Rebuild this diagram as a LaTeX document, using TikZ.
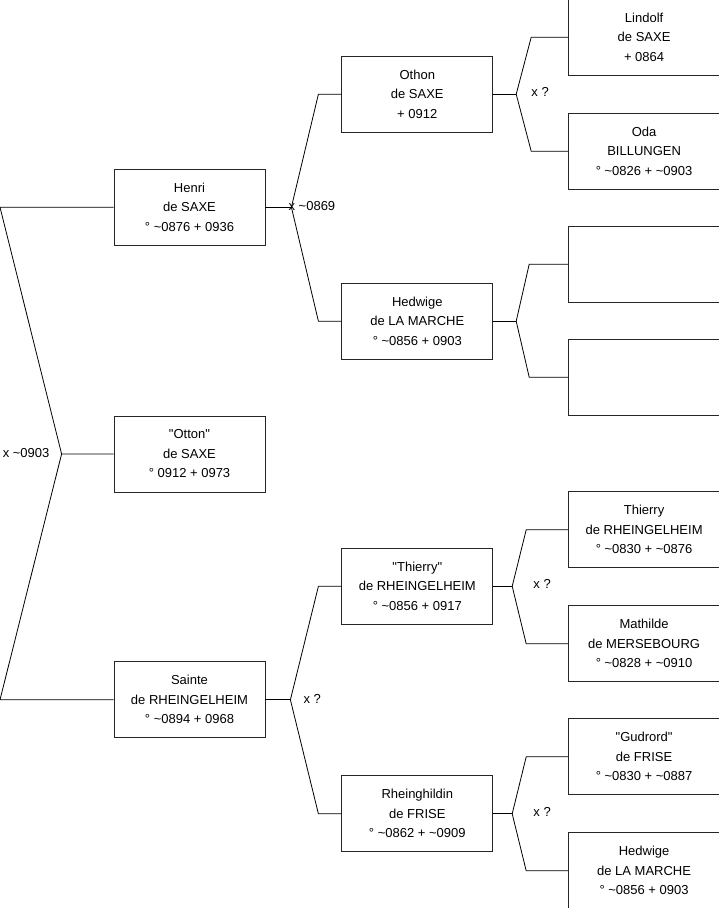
\documentclass[tikz,border=0pt]{standalone}
\usepackage{fontspec}
\setmainfont{Liberation Sans}
\usetikzlibrary{positioning}
\newcommand{\env}{\textasciitilde}
\newcommand{\guil}[1]{\textquotedbl#1\textquotedbl}
\tikzset{
  personne/.style={
    rectangle, draw=black!85, line width=0.8pt, fill=white,
    align=center, inner sep=2pt, minimum width=151pt, minimum height=76pt,
    font=\fontsize{13}{19.5}\selectfont
  },
  lien/.style={draw=black, line width=0.8pt},
  union/.style={font=\fontsize{13}{15}\selectfont, inner sep=0pt}
}
\begin{document}
\begin{tikzpicture}[x=1pt, y=-1pt, node distance=170pt and 76pt]
\useasboundingbox (0,0) rectangle (719,908);
\coordinate (bord) at (0,0);

% Enfant et parents
\node[personne] (otton) at (189.5,454) {\guil{Otton}\\de SAXE\\° 0912 + 0973};
\node[personne, above=170pt of otton] (henri) {Henri\\de SAXE\\° \env0876 + 0936};
\node[personne, below=169pt of otton] (sainte) {Sainte\\de RHEINGELHEIM\\° \env0894 + 0968};

% Grands-parents
\node[personne, right=76pt of henri, yshift=113pt] (othon) {Othon\\de SAXE\\+ 0912};
\node[personne, right=76pt of henri, yshift=-114pt] (hedwige) {Hedwige\\de LA MARCHE\\° \env0856 + 0903};
\node[personne, right=76pt of sainte, yshift=113.5pt] (thierry) {\guil{Thierry}\\de RHEINGELHEIM\\° \env0856 + 0917};
\node[personne, right=76pt of sainte, yshift=-114pt] (rheinghildin) {Rheinghildin\\de FRISE\\° \env0862 + \env0909};

% Arrière-grands-parents
\node[personne, right=75pt of othon, yshift=57pt] (lindolf) {Lindolf\\de SAXE\\+ 0864};
\node[personne, right=75pt of othon, yshift=-57pt] (oda) {Oda\\BILLUNGEN\\° \env0826 + \env0903};
\node[personne, right=75pt of hedwige, yshift=57pt] (inconnu1) {};
\node[personne, right=75pt of hedwige, yshift=-56pt] (inconnu2) {};
\node[personne, right=75pt of thierry, yshift=56.5pt] (thierrypere) {Thierry\\de RHEINGELHEIM\\° \env0830 + \env0876};
\node[personne, right=75pt of thierry, yshift=-57.5pt] (mathilde) {Mathilde\\de MERSEBOURG\\° \env0828 + \env0910};
\node[personne, right=75pt of rheinghildin, yshift=57pt] (gudrord) {\guil{Gudrord}\\de FRISE\\° \env0830 + \env0887};
\node[personne, right=75pt of rheinghildin, yshift=-57pt] (hedwige2) {Hedwige\\de LA MARCHE\\° \env0856 + 0903};

% Points d'union
\coordinate[left=52pt of otton.west] (x0);
\coordinate[right=26pt of henri.east] (x1);
\coordinate[right=25pt of sainte.east] (x2);
\coordinate[right=23pt of othon.east] (x3);
\coordinate[right=23pt of hedwige.east] (x4);
\coordinate[right=19pt of thierry.east] (x5);
\coordinate[right=19pt of rheinghildin.east] (x6);

% Liens parents -> enfant
\draw[lien] (henri.west) -- (henri.west -| bord) -- (x0) -- (otton.west);
\draw[lien] (sainte.west) -- (sainte.west -| bord) -- (x0);

\draw[lien] (henri.east) -- (x1);
\draw[lien] (x1) -- ([xshift=-23pt]othon.west) -- (othon.west);
\draw[lien] (x1) -- ([xshift=-23pt]hedwige.west) -- (hedwige.west);
\draw[lien] (sainte.east) -- (x2);
\draw[lien] (x2) -- ([xshift=-23pt]thierry.west) -- (thierry.west);
\draw[lien] (x2) -- ([xshift=-23pt]rheinghildin.west) -- (rheinghildin.west);

\draw[lien] (othon.east) -- (x3);
\draw[lien] (x3) -- ([xshift=-37pt]lindolf.west) -- (lindolf.west);
\draw[lien] (x3) -- ([xshift=-37pt]oda.west) -- (oda.west);
\draw[lien] (hedwige.east) -- (x4);
\draw[lien] (x4) -- ([xshift=-39pt]inconnu1.west) -- (inconnu1.west);
\draw[lien] (x4) -- ([xshift=-39pt]inconnu2.west) -- (inconnu2.west);
\draw[lien] (thierry.east) -- (x5);
\draw[lien] (x5) -- ([xshift=-42pt]thierrypere.west) -- (thierrypere.west);
\draw[lien] (x5) -- ([xshift=-42pt]mathilde.west) -- (mathilde.west);
\draw[lien] (rheinghildin.east) -- (x6);
\draw[lien] (x6) -- ([xshift=-42pt]gudrord.west) -- (gudrord.west);
\draw[lien] (x6) -- ([xshift=-42pt]hedwige2.west) -- (hedwige2.west);

% Mariages
\node[union, anchor=east] (m0) at ([xshift=-12pt, yshift=1pt]x0) {x \env0903};
\node[union, anchor=west] (m1) at ([xshift=-3pt, yshift=1pt]x1) {x \env0869};
\node[union, anchor=west] (m2) at ([xshift=13pt, yshift=1pt]x2) {x ?};
\node[union, anchor=west] (m3) at ([xshift=15pt, yshift=2pt]x3) {x ?};
\node[union, anchor=west] (m5) at ([xshift=21pt, yshift=2pt]x5) {x ?};
\node[union, anchor=west] (m6) at ([xshift=21pt, yshift=2pt]x6) {x ?};

\end{tikzpicture}
\end{document}
